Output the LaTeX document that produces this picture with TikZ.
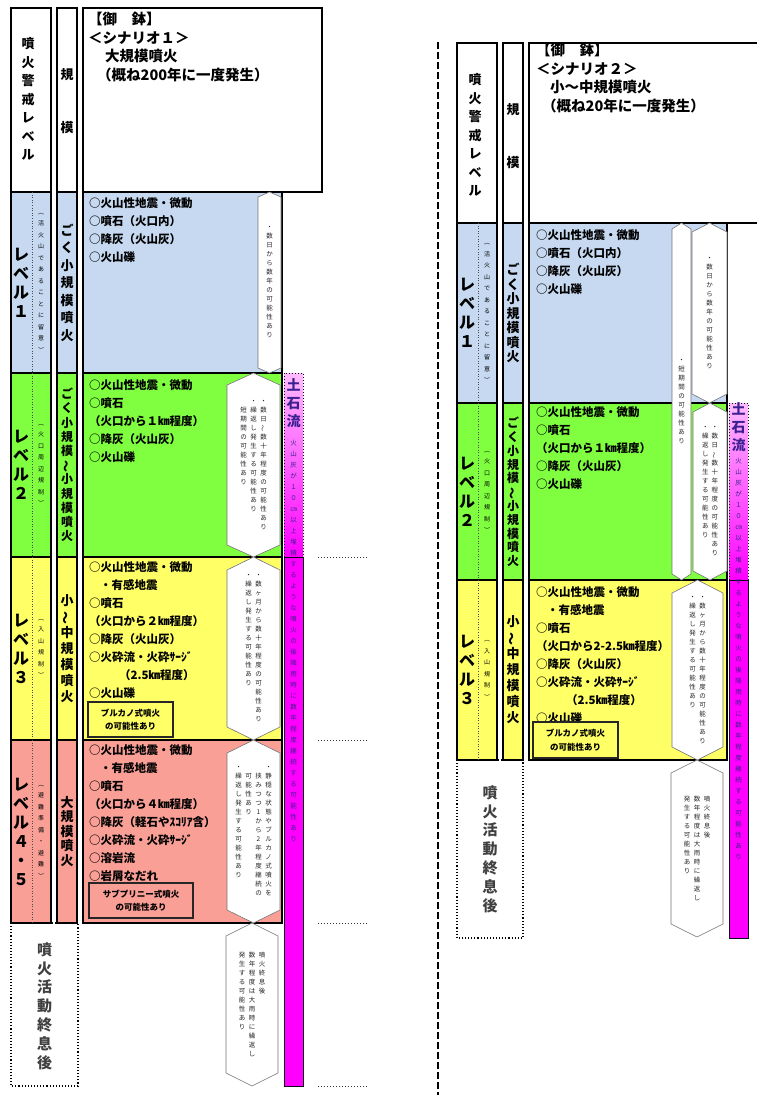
\documentclass[tikz,border=0pt]{standalone}
\usepackage{fontspec}
\usepackage{graphicx}
\newfontfamily\jp{Noto Sans CJK JP}

\definecolor{lvone}{HTML}{C6D9F0}
\definecolor{lvtwo}{HTML}{80FF40}
\definecolor{lvthree}{HTML}{FFFF66}
\definecolor{lvfour}{HTML}{FA9F96}
\definecolor{mud}{HTML}{FF00FF}
\definecolor{mudlight}{HTML}{FFBBFF}
\definecolor{mudtext}{HTML}{3A2090}

% vertical writing, one character per line
\def\vtloop#1{\ifx\relax#1\else\hbox to 1em{\hss#1\hss}\expandafter\vtloop\fi}
\newcommand\vt[1]{\vtop{\vtloop#1\relax}}
\newcommand\vwave{\rotatebox[origin=c]{90}{～}}

% hexagon: name, left, right, top, bottom, tip
\newcommand\hexa[6]{%
  \draw[hexline] (#2,#4+#6) -- ({(#2+#3)/2},#4) -- (#3,#4+#6) -- (#3,#5-#6)
    -- ({(#2+#3)/2},#5) -- (#2,#5-#6) -- cycle;
  \coordinate (#1) at ({(#2+#3)/2},{(#4+#5)/2});}

\begin{document}
\begin{tikzpicture}[x=1pt, y=-1pt,
    every node/.style={inner sep=0pt, font=\jp},
    cell/.style={draw=black, line width=1.5pt},
    afterbox/.style={draw=black, line width=1.1pt, dotted},
    lvsep/.style={draw=black!70, dotted, line width=0.6pt},
    hexline/.style={draw=black!55, fill=white, line width=0.6pt},
    head/.style={anchor=north west, align=left, font=\jp\bfseries\fontsize{14.5}{18.6}\selectfont},
    item/.style={anchor=north west, align=left, font=\jp\bfseries\fontsize{11.5}{18}\selectfont},
    lvhead/.style={font=\jp\bfseries\fontsize{13}{18.5}\selectfont},
    lvl/.style={font=\jp\bfseries\fontsize{16}{19}\selectfont},
    lvnote/.style={font=\jp\fontsize{6}{11.5}\selectfont},
    sizetxt/.style n args={2}{font=\jp\bfseries\fontsize{#1}{#2}\selectfont},
    hextxt/.style={font=\jp\fontsize{6.5}{9}\selectfont, text=black!85},
    typebox/.style={draw=black!85, line width=1.2pt, align=center, font=\jp\bfseries\fontsize{8.5}{13.5}\selectfont},
    endtxt/.style={font=\jp\bfseries\fontsize{15}{18.8}\selectfont, text=black!75},
    mudtitle/.style={font=\jp\bfseries\fontsize{14}{18}\selectfont, text=mudtext},
    mudnote/.style={font=\jp\fontsize{6.5}{11}\selectfont, text=mudtext},
    mudedge/.style={draw=black!80!mudtext, line width=1pt},
    endmark/.style={draw=black!80, dotted, line width=1pt},
    divider/.style={draw=black, line width=2.6pt, dash pattern=on 7pt off 3pt}]
\useasboundingbox (0,0) rectangle (757,1095);

% ---------- Scenario 1 ----------
% Header
\draw[cell] (11,8) rectangle (51,192);
\draw[cell] (57,8) rectangle (77,192);
\draw[cell] (83,8) rectangle (322,192);
\node[head] (hd1) at (88,12) {【御　鉢】\\＜シナリオ１＞\\\hspace*{17pt}大規模噴火\\\hspace*{9pt}（概ね200年に一度発生）};
\node[lvhead] (wl1) at (28,99) {\vt{噴火警戒レベル}};
\node[sizetxt={13}{17}] (kb1) at (67,75) {規};
\node[sizetxt={13}{17}] (kb2) at (67,128) {模};

% Level rows
\foreach \ya/\yb/\fc in {192/373/lvone,373/557/lvtwo,557/740/lvthree,740/923/lvfour}{
  \draw[cell,fill=\fc] (11,\ya) rectangle (51,\yb);
  \draw[cell,fill=\fc] (57,\ya) rectangle (77,\yb);
  \draw[cell,fill=\fc] (83,\ya) rectangle (282,\yb);
  \draw[lvsep] (32,\ya) -- (32,\yb);
}
\draw[afterbox] (11,923) rectangle (78,1086);

\node[lvl] (lv11) at (21,282.5) {\vt{レベル１}};
\node[lvl] (lv12) at (21,465) {\vt{レベル２}};
\node[lvl] (lv13) at (21,648.5) {\vt{レベル３}};
\node[lvl] (lv14) at (21,831.5) {\vt{レベル４・５}};
\node[lvnote] (nt11) at (41,282.5) {\vt{︵活火山であることに留意︶}};
\node[lvnote] (nt12) at (41,465) {\vt{︵火口周辺規制︶}};
\node[lvnote] (nt13) at (41,648.5) {\vt{︵入山規制︶}};
\node[lvnote] (nt14) at (41,831.5) {\vt{︵避難準備・避難︶}};
\node[sizetxt={13}{17.5}] (sc11) at (67,282.5) {\vt{ごく小規模噴火}};
\node[sizetxt={12}{14.2}] (sc12) at (67,465) {\vt{ごく小規模\vwave 小規模噴火}};
\node[sizetxt={13}{16}] (sc13) at (67,648.5) {\vt{小\vwave 中規模噴火}};
\node[sizetxt={13}{14.5}] (sc14) at (67,831.5) {\vt{大規模噴火}};
\node[endtxt] (end1) at (44.5,1006) {\vt{噴火活動終息後}};

% Phenomena
\node[item] (ev11) at (89,197) {○火山性地震・微動\\○噴石（火口内）\\○降灰（火山灰）\\○火山礫};
\node[item] (ev12) at (89,379) {○火山性地震・微動\\○噴石\\（火口から１㎞程度）\\○降灰（火山灰）\\○火山礫};
\node[item] (ev13) at (89,561) {○火山性地震・微動\\\hspace*{11pt}・有感地震\\○噴石\\（火口から２㎞程度）\\○降灰（火山灰）\\○火砕流・火砕ｻｰｼﾞ\\\hspace*{30pt}（2.5㎞程度）\\○火山礫};
\node[item] (ev14) at (89,744) {○火山性地震・微動\\\hspace*{11pt}・有感地震\\○噴石\\（火口から４㎞程度）\\○降灰（軽石やｽｺﾘｱ含）\\○火砕流・火砕ｻｰｼﾞ\\○溶岩流\\○岩屑なだれ};
\node[typebox, minimum width=85pt, minimum height=35pt] (vul1) at (130.5,719.5) {ブルカノ式噴火\\の可能性あり};
\node[typebox, minimum width=104pt, minimum height=35pt] (sub1) at (141,900.5) {サブプリニー式噴火\\の可能性あり};

% Duration hexagons
\hexa{hx1}{258}{281}{192}{373}{5}
\hexa{hx2}{227}{280}{373}{557}{12}
\hexa{hx3}{227}{280}{557}{740}{13}
\hexa{hx4}{227}{280}{740}{923}{13}
\hexa{hx5}{226}{278}{923}{1086}{13}
\node[hextxt] (hx1t) at (hx1) {\vt{・数日から数年の可能性あり}};
\node[hextxt] (hx2t) at (hx2) {\vt{　短期間の可能性あり}\hspace{3.5pt}\vt{・繰返し発生する可能性あり}\hspace{3.5pt}\vt{・数日\vwave 数十年程度の可能性あり}};
\node[hextxt] (hx3t) at (hx3) {\vt{・繰返し発生する可能性あり}\hspace{3.5pt}\vt{・数ヶ月から数十年程度の可能性あり}};
\node[hextxt] (hx4t) at (hx4) {\vt{・繰返し発生する可能性あり}\hspace{3.5pt}\vt{　可能性あり}\hspace{3.5pt}\vt{　挟みつつ1から2年程度継続の}\hspace{3.5pt}\vt{・静穏な状態やブルカノ式噴火を}};
\node[hextxt] (hx5t) at (hx5) {\vt{発生する可能性あり}\hspace{3.5pt}\vt{数年程度は大雨時に繰返し}\hspace{3.5pt}\vt{噴火終息後}};

% Mudflow bar
\shade[top color=mudlight, bottom color=mud] (284,373) rectangle (303,557);
\fill[mud] (284,557) rectangle (303,1086);
\draw[mudedge, dotted] (284,557) -- (284,373) -- (303,373) -- (303,557);
\draw[mudedge] (284,557) rectangle (303,1086);
\node[mudtitle] (mf1) at (293.5,403) {\vt{土石流}};
\node[mudnote, anchor=north] (mn1) at (293.5,440) {\vt{火山灰が１０㎝以上堆積するような噴火の後降雨時に数年程度継続する可能性あり}};

\foreach \yy in {557,740,923,1086}
  \draw[endmark] (318,\yy) -- (368,\yy);

% Divider
\draw[divider] (438,42) -- (438,1095);

% ---------- Scenario 2 ----------
% Header
\draw[cell] (457,43) rectangle (497,223);
\draw[cell] (503,43) rectangle (523,223);
\draw[cell] (529,43) rectangle (775,223);
\node[head] (hd2) at (536,43) {【御　鉢】\\＜シナリオ２＞\\\hspace*{14pt}小～中規模噴火\\\hspace*{6pt}（概ね20年に一度発生）};
\node[lvhead] (wl2) at (475,135) {\vt{噴火警戒レベル}};
\node[sizetxt={13}{17}] (kb3) at (513,110) {規};
\node[sizetxt={13}{17}] (kb4) at (513,163) {模};

% Level rows
\foreach \ya/\yb/\fc in {223/403/lvone,403/580/lvtwo,580/760/lvthree}{
  \draw[cell,fill=\fc] (457,\ya) rectangle (497,\yb);
  \draw[cell,fill=\fc] (503,\ya) rectangle (523,\yb);
  \draw[cell,fill=\fc] (529,\ya) rectangle (727,\yb);
  \draw[lvsep] (478,\ya) -- (478,\yb);
}
\draw[afterbox] (457,760) rectangle (523,938);

\node[lvl] (lv21) at (467,313) {\vt{レベル１}};
\node[lvl] (lv22) at (467,492) {\vt{レベル２}};
\node[lvl] (lv23) at (467,670) {\vt{レベル３}};
\node[lvnote] (nt21) at (487,313) {\vt{︵活火山であることに留意︶}};
\node[lvnote] (nt22) at (487,492) {\vt{︵火口周辺規制︶}};
\node[lvnote] (nt23) at (487,670) {\vt{︵入山規制︶}};
\node[sizetxt={13}{14.5}] (sc21) at (513,313) {\vt{ごく小規模噴火}};
\node[sizetxt={12}{13.8}] (sc22) at (513,492) {\vt{ごく小規模\vwave 小規模噴火}};
\node[sizetxt={13}{16}] (sc23) at (513,670) {\vt{小\vwave 中規模噴火}};
\node[endtxt] (end2) at (490,849) {\vt{噴火活動終息後}};

% Phenomena
\node[item] (ev21) at (536,229) {○火山性地震・微動\\○噴石（火口内）\\○降灰（火山灰）\\○火山礫};
\node[item] (ev22) at (536,406) {○火山性地震・微動\\○噴石\\（火口から１㎞程度）\\○降灰（火山灰）\\○火山礫};
\node[item] (ev23) at (536,586) {○火山性地震・微動\\\hspace*{11pt}・有感地震\\○噴石\\（火口から2-2.5㎞程度）\\○降灰（火山灰）\\○火砕流・火砕ｻｰｼﾞ\\\hspace*{30pt}（2.5㎞程度）\\○火山礫};
\node[typebox, minimum width=85pt, minimum height=36pt] (vul2) at (575.5,740) {ブルカノ式噴火\\の可能性あり};

% Duration hexagons
\hexa{hxa}{672}{691}{223}{580}{6}
\hexa{hxb}{692}{727}{223}{403}{9}
\hexa{hxc}{693}{727}{403}{580}{9}
\hexa{hxd}{672}{723}{580}{760}{13}
\hexa{hxe}{671}{723}{760}{937}{13}
\node[hextxt] (hxat) at (hxa) {\vt{・短期間の可能性あり}};
\node[hextxt] (hxbt) at (hxb) {\vt{・数日から数年の可能性あり}};
\node[hextxt] (hxct) at (hxc) {\vt{・繰返し発生する可能性あり}\hspace{3pt}\vt{・数日\vwave 数十年程度の可能性あり}};
\node[hextxt] (hxdt) at (hxd) {\vt{・繰返し発生する可能性あり}\hspace{3.5pt}\vt{・数ヶ月から数十年程度の可能性あり}};
\node[hextxt] (hxet) at (hxe) {\vt{発生する可能性あり}\hspace{3.5pt}\vt{数年程度は大雨時に繰返し}\hspace{3.5pt}\vt{噴火終息後}};

% Mudflow bar
\shade[top color=mudlight, bottom color=mud] (729,403) rectangle (748,580);
\fill[mud] (729,580) rectangle (748,938);
\draw[mudedge, dotted] (729,580) -- (729,403) -- (748,403) -- (748,580);
\draw[mudedge] (729,580) rectangle (748,938);
\node[mudtitle] (mf2) at (738.5,427) {\vt{土石流}};
\node[mudnote, anchor=north] (mn2) at (738.5,458) {\vt{火山灰が１０㎝以上堆積するような噴火の後降雨時に数年程度継続する可能性あり}};
\end{tikzpicture}
\end{document}
